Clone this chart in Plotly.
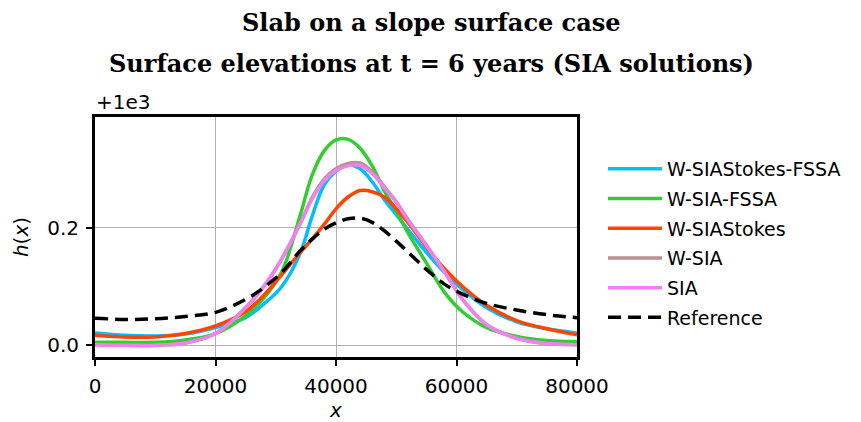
import plotly.graph_objects as go

# ---- data ----
OFFSET = 1000.0
x = [0, 5000, 10000, 15000, 20000, 25000, 28000, 31000, 34000, 36000, 38000, 40000,
     42000, 44000, 46000, 48000, 50000, 52000, 55000, 58000, 61000, 65000, 70000, 75000, 80000]

h_wsiastokes_fssa = [0.021, 0.017, 0.016, 0.019, 0.030, 0.047, 0.070, 0.100, 0.155, 0.218, 0.272, 0.296,
                     0.307, 0.300, 0.278, 0.248, 0.222, 0.196, 0.158, 0.124, 0.095, 0.064, 0.040, 0.028, 0.021]
h_wsia_fssa = [0.005, 0.005, 0.005, 0.009, 0.020, 0.050, 0.080, 0.125, 0.219, 0.288, 0.330, 0.349,
               0.350, 0.335, 0.305, 0.263, 0.228, 0.190, 0.140, 0.090, 0.057, 0.030, 0.015, 0.008, 0.006]
h_wsiastokes = [0.017, 0.014, 0.014, 0.020, 0.033, 0.057, 0.085, 0.120, 0.157, 0.180, 0.205, 0.232,
                0.252, 0.263, 0.261, 0.252, 0.232, 0.208, 0.167, 0.130, 0.100, 0.068, 0.042, 0.028, 0.018]
h_wsia = [0.001, 0.000, 0.000, 0.004, 0.020, 0.064, 0.100, 0.147, 0.206, 0.250, 0.282, 0.300,
          0.309, 0.310, 0.295, 0.270, 0.244, 0.213, 0.170, 0.125, 0.078, 0.035, 0.012, 0.003, 0.001]
h_sia = [0.001, 0.000, 0.000, 0.004, 0.020, 0.064, 0.100, 0.147, 0.205, 0.248, 0.279, 0.297,
         0.305, 0.306, 0.292, 0.268, 0.243, 0.212, 0.170, 0.125, 0.078, 0.035, 0.012, 0.003, 0.001]
h_reference = [0.046, 0.044, 0.045, 0.049, 0.056, 0.078, 0.098, 0.124, 0.160, 0.180, 0.197, 0.208,
               0.215, 0.216, 0.209, 0.195, 0.177, 0.158, 0.129, 0.104, 0.087, 0.071, 0.060, 0.052, 0.047]

series_names = ["W-SIAStokes-FSSA", "W-SIA-FSSA", "W-SIAStokes", "W-SIA", "SIA", "Reference"]
series_values = [h_wsiastokes_fssa, h_wsia_fssa, h_wsiastokes, h_wsia, h_sia, h_reference]
series_colors = ["#00BFFF", "#32CD32", "#FF4500", "#BC8F8F", "#EE82EE", "#000000"]
series_dash = ["solid", "solid", "solid", "solid", "solid", "13px,7px"]

y_tick_vals = [0.0, 0.2]
y_tick_text = ["0.0", "0.2"]
x_tick_vals = [0, 20000, 40000, 60000, 80000]
x_tick_text = ["0", "20000", "40000", "60000", "80000"]

title1 = "Slab on a slope surface case"
title2 = "Surface elevations at t = 6 years (SIA solutions)"

# page body has an 8px margin; lay out in page pixels and convert
PO = 8
W, H = 861 - PO, 422 - PO
PL, PR, PT, PB = 95, 577, 117, 357          # plot box in page pixels
ml, mt = PL - PO, PT - PO
mr, mb = W - (PR - PO), H - (PB - PO)
pw, ph = PR - PL, PB - PT


def px(xp):
    return (xp - PL) / pw


def py(yp):
    return (PB - yp) / ph


fig = go.Figure()
for i, (name, vals, col, dash) in enumerate(zip(series_names, series_values, series_colors, series_dash)):
    fig.add_trace(go.Scatter(
        x=x, y=[OFFSET + v for v in vals], mode="lines", name=name,
        line=dict(color=col, width=3.5, dash=dash, shape="spline", smoothing=1.0),
        legendgroup="g%d" % i,
    ))

axis_font = dict(family="DejaVu Sans", size=20, color="black")
fig.update_layout(
    width=W, height=H,
    margin=dict(l=ml, r=mr, t=mt, b=mb, autoexpand=False),
    paper_bgcolor="white", plot_bgcolor="white",
    showlegend=True,
    legend=dict(x=px(603), y=py(150), xanchor="left", yanchor="top",
                font=dict(family="DejaVu Sans", size=19, color="black"),
                itemwidth=54, tracegroupgap=2, bgcolor="rgba(0,0,0,0)"),
    xaxis=dict(range=[0, 80000], tickvals=x_tick_vals, ticktext=x_tick_text,
               tickfont=axis_font, showgrid=True, gridcolor="#b0b0b0", gridwidth=1,
               showline=True, linecolor="black", linewidth=3, mirror=True,
               ticks="outside", ticklen=6, tickwidth=1.5, tickcolor="black",
               ticklabelstandoff=3, zeroline=False,
               title=dict(text="<i>x</i>", font=dict(family="DejaVu Sans", size=20, color="black"),
                          standoff=3)),
    yaxis=dict(range=[OFFSET - 0.0199, OFFSET + 0.388],
               tickvals=[OFFSET + v for v in y_tick_vals], ticktext=y_tick_text,
               tickfont=axis_font, showgrid=True, gridcolor="#b0b0b0", gridwidth=1,
               showline=True, linecolor="black", linewidth=3, mirror=True,
               ticks="outside", ticklen=6, tickwidth=1.5, tickcolor="black",
               ticklabelstandoff=3, zeroline=False,
               title=dict(text="<i>h</i>(<i>x</i>)", font=dict(family="DejaVu Sans", size=20, color="black"),
                          standoff=14)),
    annotations=[
        dict(text="<b>" + title1 + "</b>", xref="paper", yref="paper", x=px(431),
             y=py(22), xanchor="center", yanchor="middle", showarrow=False,
             font=dict(family="DejaVu Serif", size=24, color="black")),
        dict(text="<b>" + title2 + "</b>", xref="paper", yref="paper", x=px(431),
             y=py(64), xanchor="center", yanchor="middle", showarrow=False,
             font=dict(family="DejaVu Serif", size=24, color="black")),
        dict(text="+1e3", xref="paper", yref="paper", x=0, y=1, xanchor="left", yanchor="bottom",
             showarrow=False, xshift=-1, yshift=1,
             font=dict(family="DejaVu Sans", size=20, color="black")),
    ],
)

fig.write_html("out.html")
